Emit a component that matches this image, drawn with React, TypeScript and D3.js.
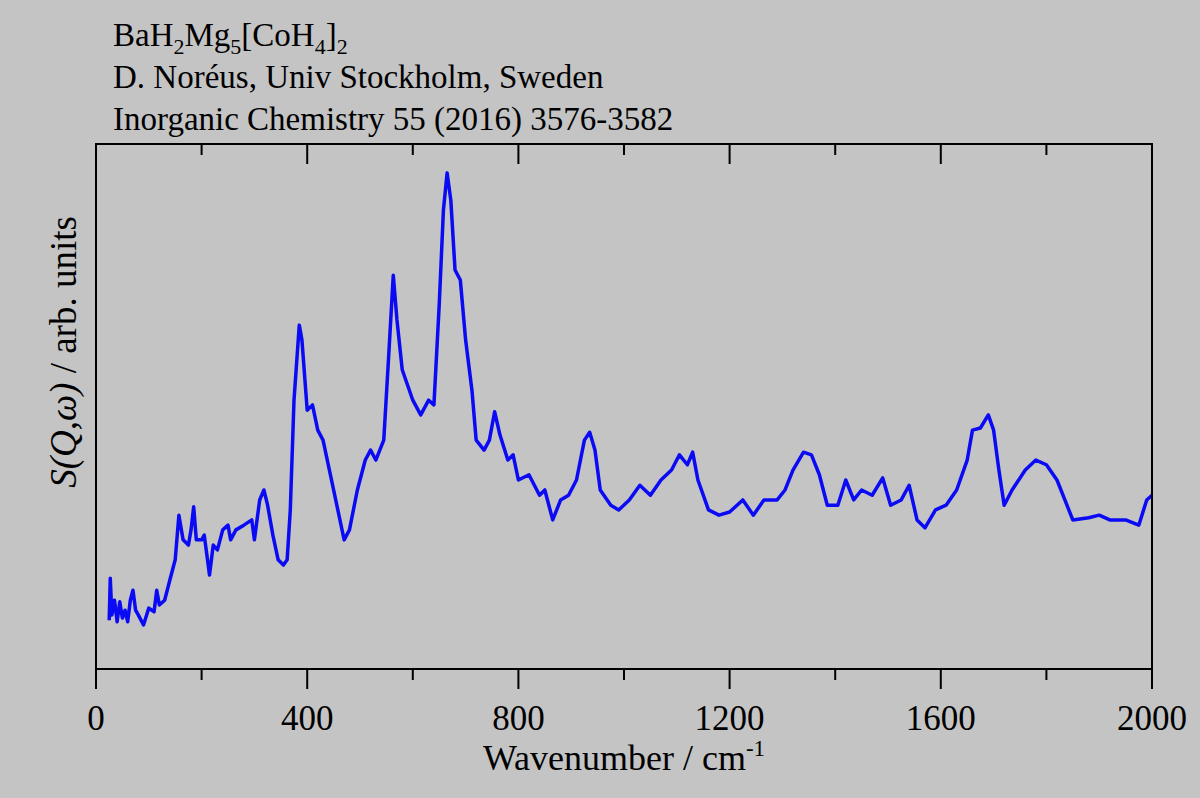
import { useEffect, useRef } from 'react';
import * as d3 from 'd3';

// wavenumber (cm-1) and intensity (arb. units, 0..100)
const wavenumber = [25, 27, 30, 35, 40, 45, 50, 55, 60, 65, 70, 75, 80, 90, 100, 110, 115, 120, 130, 140, 150, 157, 165, 175, 180, 185, 190, 200, 205, 215, 222, 230, 240, 250, 255, 265, 280, 295, 300, 310, 318, 325, 335, 345, 355, 362, 368, 375, 385, 390, 400, 410, 420, 430, 450, 470, 480, 495, 510, 520, 530, 545, 555, 563, 570, 580, 600, 615, 630, 640, 650, 658, 665, 672, 680, 690, 700, 712, 720, 735, 745, 755, 765, 780, 790, 800, 820, 840, 850, 865, 880, 895, 910, 925, 935, 945, 955, 975, 990, 1010, 1030, 1050, 1070, 1090, 1105, 1120, 1130, 1140, 1160, 1180, 1200, 1225, 1245, 1265, 1290, 1305, 1320, 1340, 1355, 1370, 1385, 1405, 1420, 1435, 1450, 1470, 1490, 1505, 1525, 1540, 1555, 1570, 1590, 1610, 1630, 1650, 1660, 1675, 1690, 1700, 1710, 1720, 1735, 1760, 1780, 1800, 1820, 1835, 1850, 1880, 1900, 1920, 1950, 1975, 1990, 2000];
const pixRead = [620, 578, 615, 600, 622, 602, 618, 610, 622, 600, 590, 610, 615, 625, 608, 612, 590, 605, 600, 580, 560, 515, 540, 545, 530, 507, 540, 540, 535, 575, 545, 550, 530, 525, 540, 530, 525, 520, 540, 500, 490, 505, 535, 560, 565, 560, 510, 400, 325, 340, 410, 405, 430, 440, 490, 540, 530, 490, 460, 450, 460, 440, 350, 275, 320, 370, 400, 415, 400, 405, 305, 210, 173, 200, 270, 280, 340, 390, 440, 450, 440, 412, 435, 460, 455, 480, 475, 495, 490, 520, 500, 495, 480, 440, 432, 450, 490, 505, 510, 500, 485, 495, 480, 470, 455, 465, 452, 480, 510, 515, 512, 500, 515, 500, 500, 490, 470, 452, 455, 475, 505, 505, 480, 500, 490, 495, 478, 505, 500, 485, 520, 528, 510, 505, 490, 460, 430, 428, 415, 430, 470, 505, 490, 470, 460, 465, 480, 500, 520, 518, 515, 520, 520, 525, 500, 495];
const intensity = pixRead.map(p => +((669 - p) / 5.25).toFixed(1));
const xTicks = [0, 400, 800, 1200, 1600, 2000];
const xMinor = [200, 600, 1000, 1400, 1800];
const titleLines = ['D. Noréus, Univ Stockholm, Sweden', 'Inorganic Chemistry 55 (2016) 3576-3582'];

export default function App() {
  const ref = useRef<SVGSVGElement>(null);

  useEffect(() => {
    const svg = d3.select(ref.current);
    svg.selectAll('*').remove();
    const left = 96, right = 1152, top = 144, bottom = 669;
    const font = 'Liberation Serif, Times New Roman, serif';

    svg.append('rect').attr('width', 1200).attr('height', 798).attr('fill', '#c4c4c4');

    const x = d3.scaleLinear().domain([0, 2000]).range([left, right]);
    const y = d3.scaleLinear().domain([0, 100]).range([bottom, top]);

    const line = d3.line<number>()
      .x((_, i) => x(wavenumber[i]))
      .y(d => y(d));

    svg.append('path').datum(intensity)
      .attr('d', line)
      .attr('fill', 'none')
      .attr('stroke', '#0a0af5')
      .attr('stroke-width', 3.5)
      .attr('stroke-linejoin', 'round');

    svg.append('rect')
      .attr('x', left).attr('y', top)
      .attr('width', right - left).attr('height', bottom - top)
      .attr('fill', 'none').attr('stroke', '#000').attr('stroke-width', 2);

    const ticks = (vals: number[], len: number) => {
      svg.append('g').selectAll('line').data(vals).enter().append('line')
        .attr('x1', d => x(d)).attr('x2', d => x(d))
        .attr('y1', bottom).attr('y2', bottom + len)
        .attr('stroke', '#000').attr('stroke-width', 2);
      svg.append('g').selectAll('line').data(vals).enter().append('line')
        .attr('x1', d => x(d)).attr('x2', d => x(d))
        .attr('y1', top).attr('y2', top + len)
        .attr('stroke', '#000').attr('stroke-width', 2);
    };
    ticks(xTicks, 20);
    ticks(xMinor, 11);

    svg.append('g').selectAll('text').data(xTicks).enter().append('text')
      .attr('x', d => x(d)).attr('y', 730)
      .attr('text-anchor', 'middle')
      .attr('font-family', font).attr('font-size', 35)
      .text(d => d);

    const xl = svg.append('text').attr('x', 624).attr('y', 770)
      .attr('text-anchor', 'middle').attr('font-family', font).attr('font-size', 36);
    xl.append('tspan').text('Wavenumber / cm');
    xl.append('tspan').attr('dy', -14).attr('font-size', 23).text('-1');

    const yl = svg.append('text')
      .attr('transform', 'translate(76,352) rotate(-90)')
      .attr('text-anchor', 'middle').attr('font-family', font).attr('font-size', 37);
    yl.append('tspan').attr('font-style', 'italic').text('S(Q,ω)');
    yl.append('tspan').text(' / arb. units');

    const t = svg.append('text').attr('x', 113).attr('y', 46)
      .attr('font-family', font).attr('font-size', 33);
    const parts: [string, boolean][] = [['BaH', false], ['2', true], ['Mg', false], ['5', true], ['[CoH', false], ['4', true], [']', false], ['2', true]];
    parts.forEach(([s, sub], i) => {
      const prevSub = i > 0 && parts[i - 1][1];
      t.append('tspan')
        .attr('dy', sub ? 8 : prevSub ? -8 : 0)
        .attr('font-size', sub ? 22 : 33)
        .text(s);
    });
    svg.append('g').selectAll('text').data(titleLines).enter().append('text')
      .attr('x', 113).attr('y', (_, i) => 88 + i * 42)
      .attr('font-family', font).attr('font-size', 33)
      .text(d => d);
  }, []);

  return <svg ref={ref} width={1200} height={798} style={{ position: 'absolute', left: 0, top: 0 }} />;
}
